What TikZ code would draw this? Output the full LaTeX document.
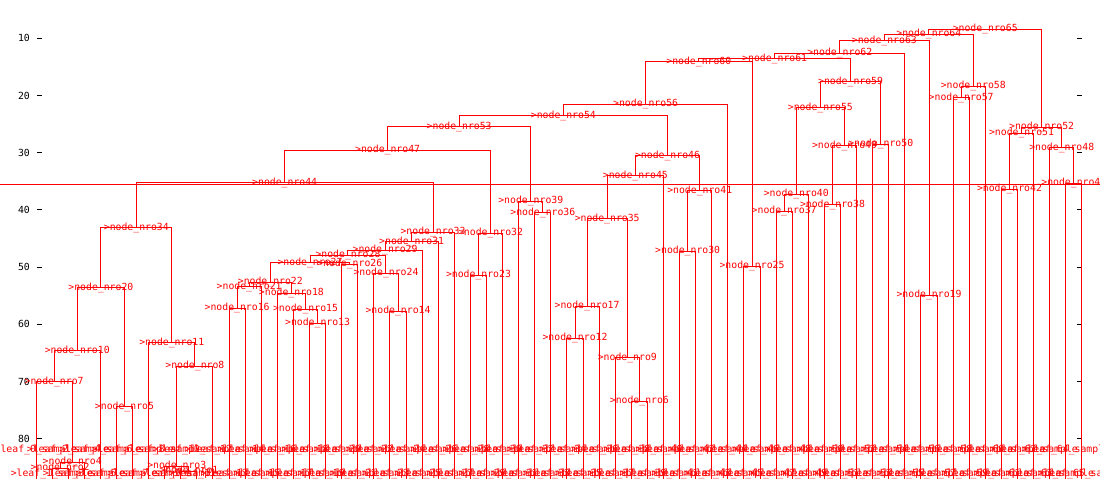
\documentclass[tikz,border=0pt]{standalone}
\usepackage{fontspec}
\newfontfamily\monof{DejaVu Sans Mono}
\usetikzlibrary{calc}
\tikzset{
  edge/.style={draw=red, line width=1pt},
  lbl/.style={text=red, font=\monof\fontsize{9.8}{10}\selectfont, inner sep=0pt},
  axlbl/.style={text=black, font=\monof\fontsize{9.8}{10}\selectfont, inner sep=0pt, anchor=east},
  tickmark/.style={draw=black, line width=1pt},
}
\newcommand\mrg[4]{%
  \coordinate (m#1) at ($(#2)!0.5!(#3)$);
  \coordinate (n#1) at (m#1 |- 0,#4);
  \draw[edge] (#2) -- (#2 |- n#1) -- (#3 |- n#1) -- (#3);
}
\newcommand\nlab[1]{\node[lbl] (t#1) at (n#1) {>node\_nro#1};}
\begin{document}
\begin{tikzpicture}[x=1pt,y=-1pt]
\fill[white] (0,0) rectangle (1100,500);
\useasboundingbox (0,0) rectangle (1100,500);
% axis
\foreach \v in {10,20,...,80}{
  \coordinate (tl\v) at (37,{38.3+(\v-10)*5.72});
  \coordinate (tlr\v) at (42,{38.3+(\v-10)*5.72});
  \coordinate (tr\v) at (1077,{38.3+(\v-10)*5.72});
  \coordinate (trr\v) at (1082,{38.3+(\v-10)*5.72});
  \draw[tickmark] (tl\v) -- (tlr\v);
  \draw[tickmark] (tr\v) -- (trr\v);
  \node[axlbl] (ax\v) at (30,{38.3+(\v-10)*5.72}) {\v};
}
% leaves
\foreach \i in {0,...,65}{
  \coordinate (L\i) at ({36+16.09*\i},479);
}
% cut line
\coordinate (cutL) at (0,184);
\coordinate (cutR) at (1100,184);
\draw[edge] (cutL) -- (cutR);
% merges
\mrg{1}{L9}{L10}{471}
\mrg{2}{L1}{L2}{468}
\mrg{3}{L8}{n1}{466}
\mrg{4}{n2}{L3}{462}
\mrg{5}{L5}{L6}{406.7}
\mrg{6}{L37}{L38}{401}
\mrg{7}{L0}{n4}{381.7}
\mrg{8}{n3}{L11}{366}
\mrg{9}{L36}{n6}{357.7}
\mrg{10}{n7}{L4}{350.7}
\mrg{11}{L7}{n8}{342.7}
\mrg{12}{L33}{L34}{338}
\mrg{13}{L17}{L18}{323.3}
\mrg{14}{L22}{L23}{311}
\mrg{15}{L16}{n13}{309}
\mrg{16}{L12}{L13}{308}
\mrg{17}{n12}{L35}{306}
\mrg{18}{L15}{n15}{293.3}
\mrg{19}{L55}{L56}{295}
\mrg{20}{n10}{n5}{287.7}
\mrg{21}{n16}{L14}{286.5}
\mrg{22}{n21}{n18}{282.3}
\mrg{23}{L27}{L28}{275}
\mrg{24}{L21}{n14}{273}
\mrg{25}{L44}{L45}{266}
\mrg{26}{L19}{L20}{264}
\mrg{27}{n22}{n26}{262.7}
\mrg{28}{n27}{n24}{255}
\mrg{29}{n28}{L24}{250}
\mrg{30}{L40}{L41}{251.3}
\mrg{31}{n29}{L25}{241.7}
\mrg{32}{n23}{L29}{233.3}
\mrg{33}{n31}{L26}{232}
\mrg{34}{n20}{n11}{227.7}
\mrg{35}{n17}{n9}{218.7}
\mrg{36}{L31}{L32}{212.5}
\mrg{37}{L46}{L47}{211}
\mrg{38}{L49}{L50}{204.7}
\mrg{39}{L30}{n36}{201}
\mrg{40}{n37}{L48}{194.3}
\mrg{41}{n30}{L42}{190.5}
\mrg{42}{L60}{L61}{189}
\mrg{43}{L64}{L65}{183.3}
\mrg{44}{n34}{n33}{182.7}
\mrg{45}{n35}{L39}{175.7}
\mrg{46}{n45}{n41}{155.7}
\mrg{47}{n44}{n32}{150.3}
\mrg{48}{L63}{n43}{148}
\mrg{49}{n38}{L51}{146}
\mrg{50}{L52}{L53}{144.3}
\mrg{51}{n42}{L62}{133.3}
\mrg{52}{n51}{n48}{127.3}
\mrg{53}{n47}{n39}{126.7}
\mrg{54}{n53}{n46}{115.7}
\mrg{55}{n40}{n49}{107.7}
\mrg{56}{n54}{L43}{104.3}
\mrg{57}{L57}{L58}{97.5}
\mrg{58}{n57}{L59}{86.3}
\mrg{59}{n55}{n50}{82}
\mrg{60}{n56}{n25}{61.7}
\mrg{61}{n60}{n59}{59}
\mrg{62}{n61}{L54}{53.3}
\mrg{63}{n62}{n19}{40.7}
\mrg{64}{n63}{n58}{34.3}
\mrg{65}{n64}{n52}{29.3}
% node labels
\foreach \k in {1,...,65}{ \nlab{\k} }
% leaf labels (two alternating rows)
\foreach \i in {0,2,...,64}{
  \node[lbl] (ll\i) at (L\i |- 0,450) {>leaf\_\i\_sample};
}
\foreach \i in {1,3,...,65}{
  \node[lbl] (ll\i) at (L\i |- 0,474) {>leaf\_\i\_sample};
}
\end{tikzpicture}
\end{document}
